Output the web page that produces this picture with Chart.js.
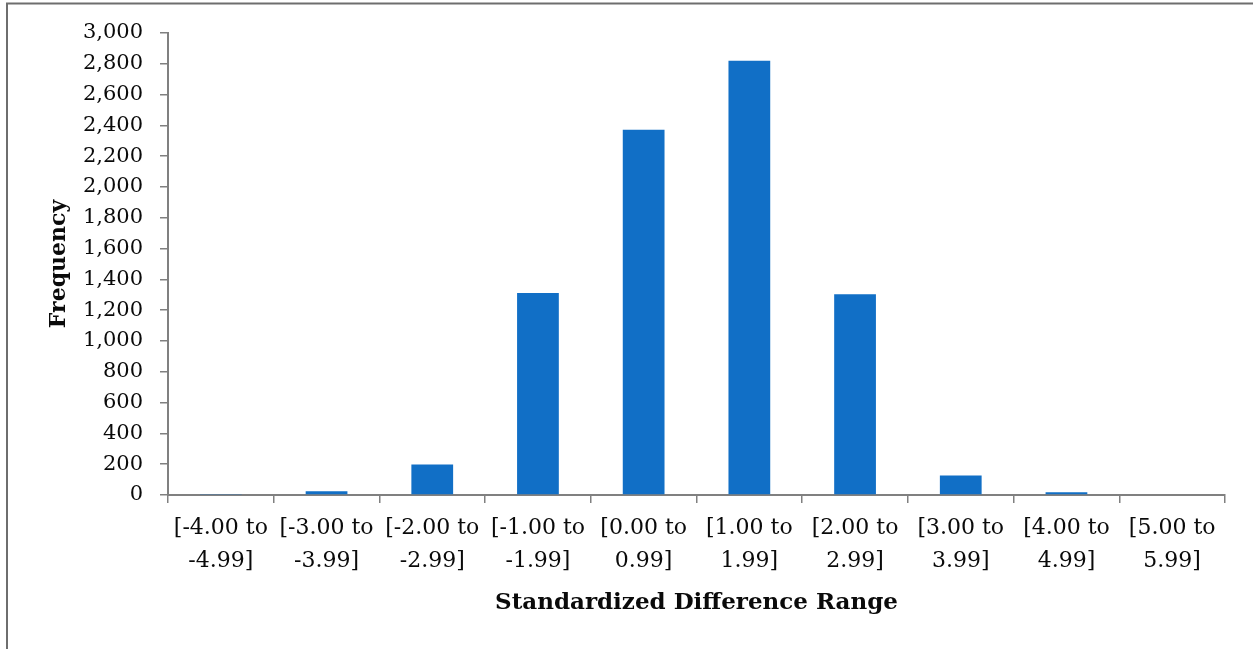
<!DOCTYPE html>
<html>
<head>
<meta charset="utf-8">
<script src="https://cdn.jsdelivr.net/npm/chart.js@4/dist/chart.umd.min.js"></script>
<style>
  html, body { margin: 0; padding: 0; background: #ffffff; }
  #wrap { position: relative; width: 1253px; height: 649px; }
</style>
</head>
<body>
<div id="wrap"><canvas id="chart" width="1253" height="649"></canvas></div>
<script>
// Frequency of standardized differences, grouped into ranges
const rangeLabels = [
  ['[-4.00 to', '-4.99]'],
  ['[-3.00 to', '-3.99]'],
  ['[-2.00 to', '-2.99]'],
  ['[-1.00 to', '-1.99]'],
  ['[0.00 to', '0.99]'],
  ['[1.00 to', '1.99]'],
  ['[2.00 to', '2.99]'],
  ['[3.00 to', '3.99]'],
  ['[4.00 to', '4.99]'],
  ['[5.00 to', '5.99]']
];
const frequency = [7, 24, 198, 1311, 2371, 2820, 1303, 126, 18, 0];
const yTickStep = 200;
const yMax = 3000;

const serif = "'DejaVu Serif', 'Liberation Serif', serif";
const axisGray = '#808080';
const textColor = '#0a0a0a';

// outer frame around the chart (only the left and top edges fall inside the page)
const framePlugin = {
  id: 'frame',
  beforeDraw(chart) {
    const ctx = chart.ctx;
    ctx.save();
    ctx.fillStyle = '#ffffff';
    ctx.fillRect(0, 0, chart.width, chart.height);
    ctx.strokeStyle = '#6e6e6e';
    ctx.lineWidth = 2;
    ctx.strokeRect(7, 3.5, chart.width + 50, chart.height + 50);
    ctx.restore();
  }
};

new Chart(document.getElementById('chart'), {
  type: 'bar',
  data: {
    labels: rangeLabels,
    datasets: [{
      data: frequency,
      backgroundColor: '#116FC6',
      borderWidth: 0,
      categoryPercentage: 1,
      barPercentage: 0.395
    }]
  },
  options: {
    responsive: false,
    animation: false,
    devicePixelRatio: 1,
    layout: { padding: { left: 0, top: 33, right: 28, bottom: 0 } },
    plugins: {
      legend: { display: false },
      tooltip: { enabled: false }
    },
    scales: {
      x: {
        offset: true,
        grid: {
          offset: true,
          drawOnChartArea: false,
          drawTicks: true,
          tickLength: 8,
          color: axisGray,
          lineWidth: 1.5
        },
        border: { color: axisGray, width: 2 },
        ticks: {
          color: textColor,
          font: { family: serif, size: 22, lineHeight: 1.5 },
          padding: 9,
          maxRotation: 0,
          autoSkip: false
        },
        title: {
          display: true,
          text: 'Standardized Difference Range',
          color: textColor,
          font: { family: serif, size: 23, weight: 'bold', lineHeight: 1.2 },
          padding: { top: 0, bottom: 32 }
        },
        afterFit(scale) { scale.height = 154; }
      },
      y: {
        min: 0,
        max: yMax,
        grid: {
          drawOnChartArea: false,
          drawTicks: true,
          tickLength: 8,
          color: axisGray,
          lineWidth: 1.5
        },
        border: { color: axisGray, width: 2 },
        ticks: {
          stepSize: yTickStep,
          color: textColor,
          font: { family: serif, size: 21 },
          padding: 17,
          callback: v => v.toLocaleString('en-US')
        },
        title: {
          display: true,
          text: 'Frequency',
          color: textColor,
          font: { family: serif, size: 22, weight: 'bold', lineHeight: 1.2 },
          padding: { top: 46, bottom: 0 }
        },
        afterFit(scale) { scale.width = 168; }
      }
    }
  },
  plugins: [framePlugin]
});
</script>
</body>
</html>
